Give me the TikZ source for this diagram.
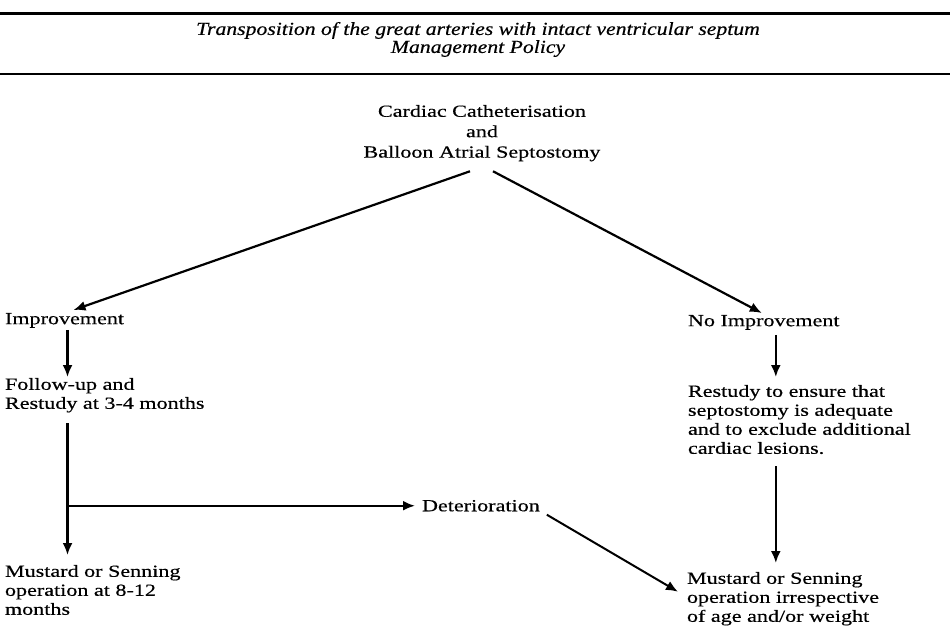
\documentclass[tikz,border=0pt]{standalone}
\usepackage{fontspec}
\setmainfont[FakeStretch=1.3,FakeBold=0.4]{Liberation Serif}
\newfontfamily\titlefont[FakeStretch=1.18,FakeBold=0.4]{Liberation Serif}
\usetikzlibrary{arrows.meta,calc}

\begin{document}
\begin{tikzpicture}[x=0.5pt,y=-0.5pt,
  main node/.style={inner sep=0pt,outer sep=0pt,align=left,font=\fontsize{8.5}{9.5}\selectfont},
  flow/.style={draw=black,line width=1.1pt,-{Latex[length=6pt,width=5pt]}}]%
  \useasboundingbox (0,0) rectangle (950,627);
  % heading
  \draw[line width=1.5pt] (0,13) -- (950,13);
  \draw[line width=1pt] (0,74) -- (950,74);
  \node[main node,align=center,anchor=north,font=\titlefont\itshape\fontsize{9.2}{9}\selectfont] (title) at (478,22)
    {Transposition of the great arteries with intact ventricular septum\\Management Policy};

  \node[main node,align=center,anchor=north,font=\fontsize{8.5}{10.2}\selectfont] (cath) at (482,105) {Cardiac Catheterisation\\and\\Balloon Atrial Septostomy};
  \node[main node,anchor=north west] (impr) at (5,313) {Improvement};
  \node[main node,anchor=north west] (noimpr) at (688,315) {No Improvement};
  \node[main node,anchor=north west] (follow) at (5,378) {Follow-up and\\Restudy at 3-4 months};
  \node[main node,anchor=north west] (restudy) at (688,385) {Restudy to ensure that\\septostomy is adequate\\and to exclude additional\\cardiac lesions.};
  \node[main node,anchor=north west] (deter) at (422,500) {Deterioration};
  \node[main node,anchor=north west] (mustL) at (5,565) {Mustard or Senning\\operation at 8-12\\months};
  \node[main node,anchor=north west] (mustR) at (687,572) {Mustard or Senning\\operation irrespective\\of age and/or weight};

  % connectors
  \draw[flow] ([xshift=-6pt,yshift=-5pt]cath.south) -- ([xshift=4.5pt,yshift=1.5pt]impr.north);
  \draw[flow] ([xshift=5.5pt,yshift=-5pt]cath.south) -- ([xshift=-1pt,yshift=1pt]noimpr.north);

  \coordinate (iarrow) at ($(impr.south)+(3,2)$);
  \draw[flow] (iarrow) -- ($(iarrow |- follow.north)+(0,-1)$);
  \coordinate (ltop) at ($(iarrow |- follow.south)+(0,11)$);
  \coordinate (branch) at (iarrow |- deter.west);
  \draw[flow] (ltop) -- ($(ltop |- mustL.north)+(0,-10)$);
  \draw[flow] (branch) -- ($(deter.west)+(-7,0)$);
  \draw[flow,line width=1pt] ($(deter.east)+(7,9)$) -- ($(mustR.west)+(-9,-7)$);

  \coordinate (narrow) at ($(noimpr.south)+(12,5)$);
  \draw[flow] (narrow) -- ($(narrow |- restudy.north)+(0,-8)$);
  \draw[flow] ($(narrow |- restudy.south)+(0,12)$) -- ($(narrow |- mustR.north)+(0,-9)$);
\end{tikzpicture}
\end{document}
